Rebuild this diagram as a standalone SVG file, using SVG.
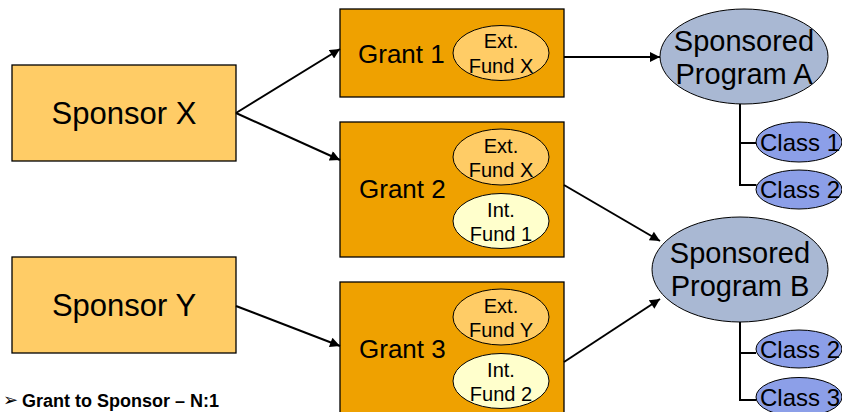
<svg xmlns="http://www.w3.org/2000/svg" width="842" height="412" viewBox="0 0 842 412">
<defs>
<style>
text{font-family:"Liberation Sans",Arial,sans-serif;fill:#000}
.sp{fill:#FFCC66;stroke:#000;stroke-width:1.3}
.gr{fill:#EFA100;stroke:#000;stroke-width:1.3}
.ext{fill:#FFCC66;stroke:#000;stroke-width:1}
.int{fill:#FFFFCC;stroke:#000;stroke-width:1}
.prog{fill:#A9B8D3;stroke:#000;stroke-width:1}
.cls{fill:#8C9FE8;stroke:#000;stroke-width:1}
.big{font-size:31px}
.gt{font-size:26px}
.ft{font-size:20px;text-anchor:middle}
.pt{font-size:29px;text-anchor:middle}
.ct{font-size:24px}
.conn line,.conn path{stroke:#000;stroke-width:2;fill:none}
.tree{stroke:#000;stroke-width:1.5;fill:none}
</style>
<marker id="ah" viewBox="0 0 10 10" refX="10" refY="5" markerWidth="5.5" markerHeight="5" orient="auto" markerUnits="strokeWidth">
<path d="M0,0 L10,5 L0,10 z" fill="#000"/>
</marker>
</defs>
<rect width="842" height="412" fill="#fff"/>

<g id="sponsorX">
<rect class="sp" x="12" y="65" width="224" height="96"/>
<text class="big" x="124" y="124" text-anchor="middle">Sponsor X</text>
</g>
<g id="sponsorY">
<rect class="sp" x="12" y="257" width="224" height="96"/>
<text class="big" x="124" y="316" text-anchor="middle">Sponsor Y</text>
</g>

<g id="grant1">
<rect class="gr" x="340" y="9" width="224" height="88"/>
<text class="gt" x="358" y="63">Grant 1</text>
<ellipse class="ext" cx="501" cy="53" rx="48" ry="27.5"/>
<text class="ft" x="501" y="48">Ext.</text>
<text class="ft" x="501" y="73">Fund X</text>
</g>
<g id="grant2">
<rect class="gr" x="340" y="122" width="224" height="135"/>
<text class="gt" x="359" y="198">Grant 2</text>
<ellipse class="ext" cx="501" cy="157" rx="48" ry="28"/>
<text class="ft" x="501" y="153">Ext.</text>
<text class="ft" x="501" y="177">Fund X</text>
<ellipse class="int" cx="501" cy="221" rx="48" ry="27.5"/>
<text class="ft" x="501" y="217">Int.</text>
<text class="ft" x="501" y="241">Fund 1</text>
</g>
<g id="grant3">
<rect class="gr" x="340" y="282" width="224" height="140"/>
<text class="gt" x="359" y="358">Grant 3</text>
<ellipse class="ext" cx="501" cy="317" rx="48" ry="28"/>
<text class="ft" x="501" y="313">Ext.</text>
<text class="ft" x="501" y="337">Fund Y</text>
<ellipse class="int" cx="501" cy="381" rx="48" ry="27.5"/>
<text class="ft" x="501" y="377">Int.</text>
<text class="ft" x="501" y="401">Fund 2</text>
</g>

<g id="programA">
<ellipse class="prog" cx="744" cy="56.5" rx="84" ry="47.5"/>
<text class="pt" x="744" y="51">Sponsored</text>
<text class="pt" x="744" y="84">Program A</text>
</g>
<g id="programB">
<ellipse class="prog" cx="740" cy="269.5" rx="88" ry="52.5"/>
<text class="pt" x="740" y="263">Sponsored</text>
<text class="pt" x="740" y="296">Program B</text>
</g>

<g id="classA1">
<ellipse class="cls" cx="799" cy="142" rx="43" ry="20"/>
<text class="ct" x="760" y="151">Class 1</text>
</g>
<g id="classA2">
<ellipse class="cls" cx="799" cy="189.5" rx="43" ry="19.5"/>
<text class="ct" x="760" y="198">Class 2</text>
</g>
<g id="classB2">
<ellipse class="cls" cx="799" cy="349" rx="43" ry="19"/>
<text class="ct" x="760" y="358">Class 2</text>
</g>
<g id="classB3">
<ellipse class="cls" cx="799" cy="397" rx="43" ry="19.5"/>
<text class="ct" x="760" y="406">Class 3</text>
</g>

<g id="connectors" class="conn">
<line x1="236" y1="113" x2="340" y2="49" marker-end="url(#ah)"/>
<line x1="236" y1="113" x2="340" y2="160" marker-end="url(#ah)"/>
<line x1="236" y1="306" x2="340" y2="346" marker-end="url(#ah)"/>
<line x1="564" y1="57" x2="660" y2="57" marker-end="url(#ah)"/>
<line x1="564" y1="185" x2="660" y2="241" marker-end="url(#ah)"/>
<line x1="564" y1="362" x2="660" y2="299" marker-end="url(#ah)"/>
<path class="tree" d="M740,104 V185 H756.5 M740,143 H756"/>
<path class="tree" d="M740,322 V400 H756.5 M740,353 H756"/>
</g>

<g id="note">
<text x="3" y="406" style="font-family:'DejaVu Sans',sans-serif;font-size:18px">➢</text>
<text x="22" y="407" style="font-size:18px;font-weight:bold">Grant to Sponsor – N:1</text>
</g>
</svg>
